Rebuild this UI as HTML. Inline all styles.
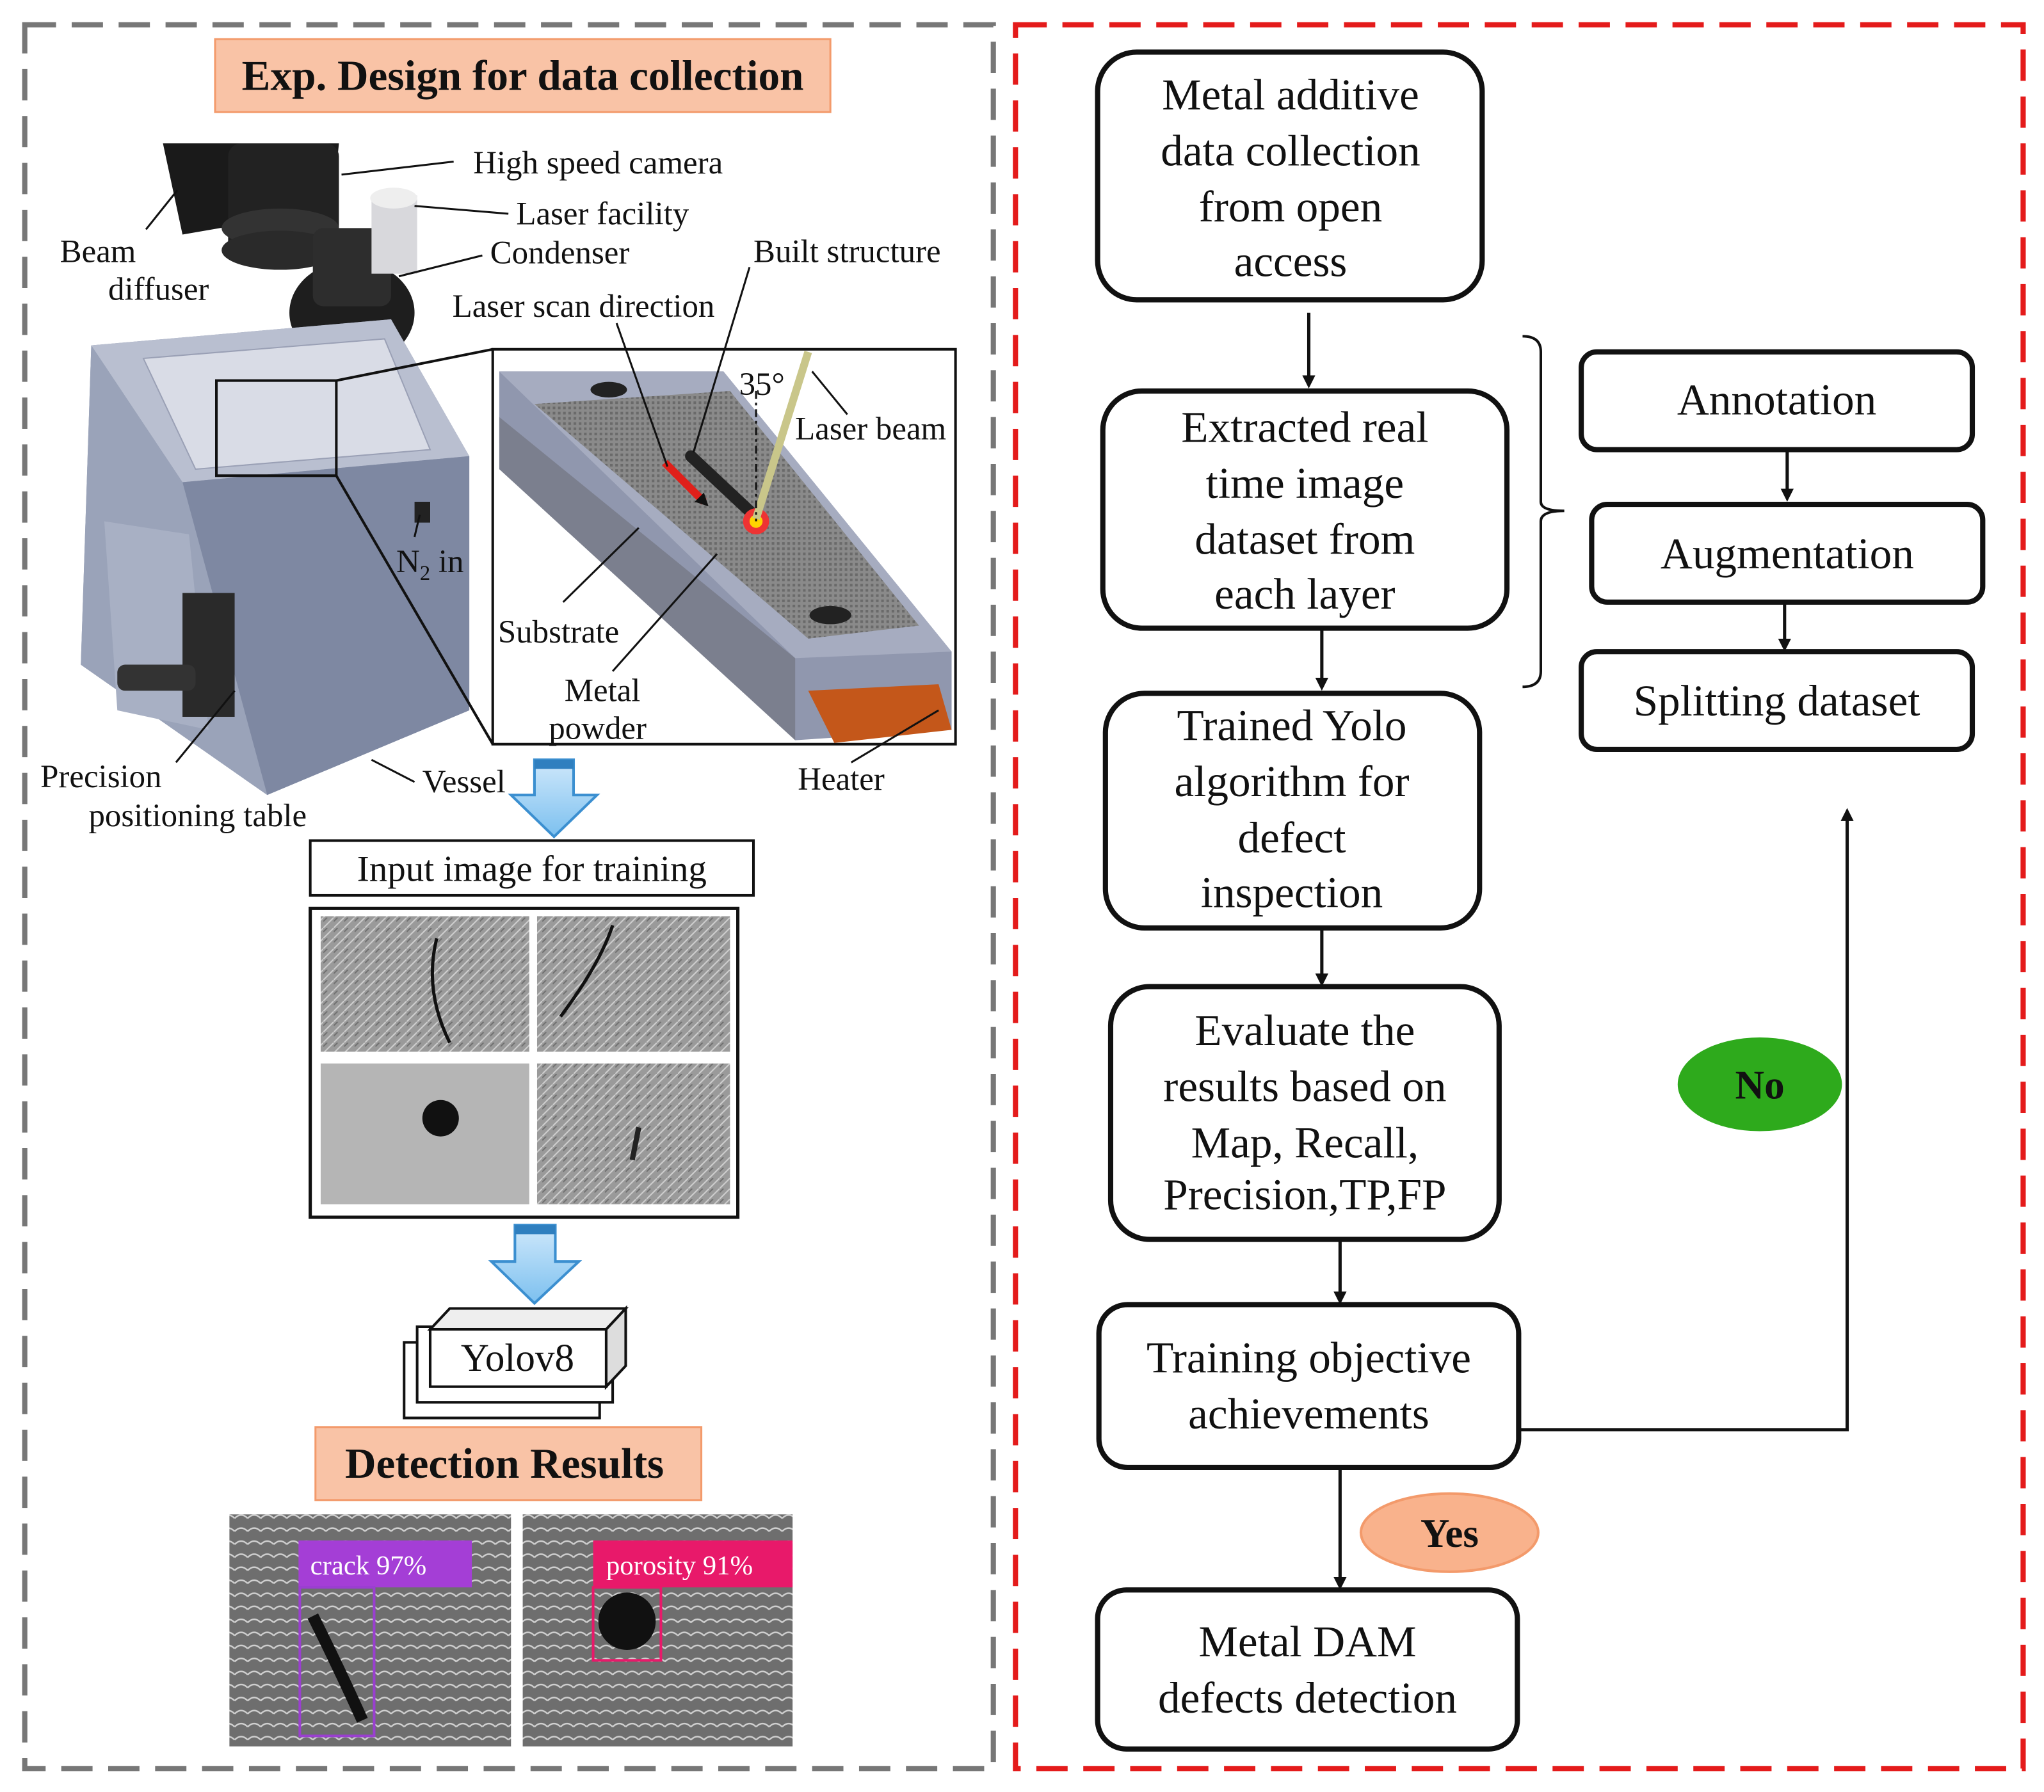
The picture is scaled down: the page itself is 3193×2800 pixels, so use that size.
<!DOCTYPE html>
<html><head><meta charset="utf-8"><style>
html,body{margin:0;padding:0;background:#fff}
svg{display:block}
text{font-family:"Liberation Serif",serif;fill:#111}
</style></head><body>
<svg width="3193" height="2800" viewBox="0 0 1568 1375" xmlns="http://www.w3.org/2000/svg">
<defs>
<marker id="ah" markerWidth="10" markerHeight="10" refX="5" refY="5" orient="auto" markerUnits="userSpaceOnUse"><path d="M0,0 L10,5 L0,10 z" fill="#111"/></marker>
<linearGradient id="bl" x1="0" y1="0" x2="0" y2="1"><stop offset="0" stop-color="#cfe8fb"/><stop offset="1" stop-color="#7cc0ef"/></linearGradient>
<pattern id="tex" width="8" height="8" patternUnits="userSpaceOnUse"><rect width="8" height="8" fill="#9a9a9a"/><path d="M0,8 L8,0" stroke="#cfcfcf" stroke-width="1"/><path d="M0,3 L3,0" stroke="#707070" stroke-width="1"/></pattern>
<pattern id="tex2" width="10" height="10" patternUnits="userSpaceOnUse"><rect width="10" height="10" fill="#6e6e6e"/><path d="M0,5 Q5,0 10,5" stroke="#d0d0d0" stroke-width="1.2" fill="none"/></pattern>
<pattern id="grid" width="4" height="4" patternUnits="userSpaceOnUse"><rect width="4" height="4" fill="#8a8a8a"/><rect width="2" height="2" fill="#6a6a6a"/></pattern>
</defs>

<rect x="19" y="19" width="743" height="1338" fill="none" stroke="#777" stroke-width="4" stroke-dasharray="24,12"/>
<rect x="779" y="19" width="773" height="1338" fill="none" stroke="#e41b1b" stroke-width="4" stroke-dasharray="24,12"/>

<rect x="165" y="30" width="472" height="56" fill="#f9c3a6" stroke="#f39a6b" stroke-width="1.5"/>
<text x="401" y="69" font-size="33" font-weight="bold" text-anchor="middle">Exp. Design for data collection</text>

<path d="M125,110 L260,110 L255,160 L140,180 Z" fill="#1a1a1a"/>
<rect x="175" y="110" width="85" height="90" rx="10" fill="#222"/>
<ellipse cx="215" cy="175" rx="45" ry="15" fill="#333"/>
<ellipse cx="215" cy="192" rx="45" ry="15" fill="#2a2a2a"/>
<ellipse cx="270" cy="240" rx="48" ry="40" fill="#1e1e1e"/>
<rect x="240" y="175" width="60" height="60" rx="8" fill="#2d2d2d"/>
<rect x="285" y="150" width="35" height="60" fill="#d8d8dc"/>
<ellipse cx="302" cy="152" rx="18" ry="8" fill="#eee"/>
<path d="M240,260 L215,320" stroke="#b8b86a" stroke-width="6"/>
<path d="M70,265 L300,245 L360,350 L360,545 L205,610 L62,510 Z" fill="#8a93ab"/>
<path d="M70,265 L300,245 L360,350 L140,370 Z" fill="#b9bfd0"/>
<path d="M110,275 L295,260 L330,345 L150,360 Z" fill="#d9dce6" stroke="#9aa0b5"/>
<path d="M140,370 L360,350 L360,545 L205,610 Z" fill="#7e88a2"/>
<path d="M62,510 L70,265 L140,370 L205,610 Z" fill="#9aa3b9"/>
<path d="M80,400 L145,410 L160,560 L90,545 Z" fill="#a8b0c4"/>
<rect x="140" y="455" width="40" height="95" fill="#2a2a2a"/>
<rect x="90" y="510" width="60" height="20" rx="6" fill="#333"/>
<rect x="318" y="385" width="12" height="16" fill="#222"/>
<rect x="166" y="292" width="92" height="73" fill="none" stroke="#111" stroke-width="2"/>
<line x1="258" y1="292" x2="378" y2="268" stroke="#111" stroke-width="2"/>
<line x1="258" y1="365" x2="378" y2="571" stroke="#111" stroke-width="2"/>

<rect x="378" y="268" width="355" height="303" fill="#fff" stroke="#111" stroke-width="2"/>
<path d="M383,285 L555,285 L730,500 L730,560 L610,568 L383,340 Z" fill="#9097ae"/>
<path d="M383,285 L555,285 L730,500 L610,505 Z" fill="#a6acc0"/>
<path d="M410,310 L560,300 L705,480 L620,490 Z" fill="url(#grid)"/>
<path d="M383,320 L610,505 L610,568 L383,360 Z" fill="#7b7f8e"/>
<ellipse cx="467" cy="299" rx="14" ry="6" fill="#222"/>
<ellipse cx="637" cy="472" rx="16" ry="7" fill="#222"/>
<path d="M620,530 L720,525 L730,560 L640,570 Z" fill="#c4571a"/>
<path d="M530,350 L578,395" stroke="#222" stroke-width="9" stroke-linecap="round"/>
<path d="M510,355 L540,385" stroke="#e0201a" stroke-width="6" marker-end="url(#ah)"/>
<circle cx="580" cy="400" r="10" fill="#e33"/><circle cx="580" cy="400" r="5" fill="#ffd400"/>
<path d="M580,398 L620,270" stroke="#c9c68a" stroke-width="6"/>
<line x1="580" y1="300" x2="580" y2="400" stroke="#111" stroke-dasharray="6,3,2,3" stroke-width="1.5"/>

<g font-size="25">
<text x="363" y="133">High speed camera</text>
<line x1="262" y1="134" x2="348" y2="124" stroke="#111" stroke-width="1.5"/>
<text x="396" y="172">Laser facility</text>
<line x1="318" y1="158" x2="390" y2="164" stroke="#111" stroke-width="1.5"/>
<text x="376" y="202">Condenser</text>
<line x1="306" y1="212" x2="370" y2="196" stroke="#111" stroke-width="1.5"/>
<text x="46" y="201">Beam</text>
<text x="83" y="230">diffuser</text>
<line x1="112" y1="176" x2="136" y2="146" stroke="#111" stroke-width="1.5"/>
<text x="578" y="201">Built structure</text>
<line x1="575" y1="205" x2="532" y2="347" stroke="#111" stroke-width="1.5"/>
<text x="347" y="243">Laser scan direction</text>
<line x1="473" y1="248" x2="512" y2="358" stroke="#111" stroke-width="1.5"/>
<text x="567" y="303">35°</text>
<text x="610" y="337">Laser beam</text>
<line x1="623" y1="285" x2="650" y2="318" stroke="#111" stroke-width="1.5"/>
<text x="304" y="439">N<tspan font-size="16" dy="6">2</tspan><tspan dy="-6"> in</tspan></text>
<line x1="322" y1="395" x2="318" y2="412" stroke="#111" stroke-width="1.5"/>
<text x="382" y="493">Substrate</text>
<line x1="432" y1="462" x2="490" y2="405" stroke="#111" stroke-width="1.5"/>
<text x="433" y="538">Metal</text>
<text x="421" y="567">powder</text>
<line x1="470" y1="515" x2="550" y2="425" stroke="#111" stroke-width="1.5"/>
<text x="612" y="606">Heater</text>
<line x1="653" y1="585" x2="720" y2="545" stroke="#111" stroke-width="1.5"/>
<text x="31" y="604">Precision</text>
<text x="68" y="634">positioning table</text>
<line x1="135" y1="585" x2="180" y2="530" stroke="#111" stroke-width="1.5"/>
<text x="324" y="608">Vessel</text>
<line x1="318" y1="600" x2="285" y2="583" stroke="#111" stroke-width="1.5"/>
</g>

<path d="M410,583 L440,583 L440,610 L458,610 L425,642 L392,610 L410,610 Z" fill="url(#bl)" stroke="#3b8fd0" stroke-width="2"/>
<rect x="410" y="583" width="30" height="7" fill="#2f7fbf"/>
<path d="M395,940 L426,940 L426,968 L444,968 L410,1000 L377,968 L395,968 Z" fill="url(#bl)" stroke="#3b8fd0" stroke-width="2"/>
<rect x="395" y="940" width="31" height="7" fill="#2f7fbf"/>

<rect x="238" y="645" width="340" height="42" fill="#fff" stroke="#111" stroke-width="2"/>
<text x="408" y="676" font-size="28" text-anchor="middle">Input image for training</text>

<rect x="238" y="697" width="328" height="237" fill="#fff" stroke="#111" stroke-width="2.5"/>
<rect x="246" y="703" width="160" height="104" fill="url(#tex)"/>
<rect x="412" y="703" width="148" height="104" fill="url(#tex)"/>
<rect x="246" y="816" width="160" height="108" fill="#b5b5b5"/>
<rect x="412" y="816" width="148" height="108" fill="url(#tex)"/>
<path d="M335,720 Q325,760 345,800" stroke="#111" stroke-width="2.5" fill="none"/>
<path d="M470,710 Q460,740 430,780" stroke="#111" stroke-width="2.5" fill="none"/>
<circle cx="338" cy="858" r="14" fill="#111"/>
<path d="M490,865 L485,890" stroke="#222" stroke-width="4"/>

<path d="M310,1030 L460,1030 L460,1088 L310,1088 Z" fill="#fff" stroke="#111" stroke-width="2"/>
<path d="M320,1018 L470,1018 L470,1076 L320,1076 Z" fill="#fff" stroke="#111" stroke-width="2"/>
<path d="M330,1020 L345,1004 L480,1004 L465,1020 Z" fill="#eee" stroke="#111" stroke-width="2"/>
<path d="M465,1020 L480,1004 L480,1048 L465,1064 Z" fill="#ddd" stroke="#111" stroke-width="2"/>
<rect x="330" y="1020" width="135" height="44" fill="#fff" stroke="#111" stroke-width="2"/>
<text x="397" y="1052" font-size="30" text-anchor="middle">Yolov8</text>

<rect x="242" y="1095" width="296" height="56" fill="#f9c3a6" stroke="#f39a6b" stroke-width="1.5"/>
<text x="387" y="1134" font-size="33" font-weight="bold" text-anchor="middle">Detection Results</text>

<rect x="176" y="1162" width="216" height="178" fill="url(#tex2)"/>
<rect x="229" y="1182" width="133" height="36" fill="#a43ed6"/>
<text x="238" y="1208" font-size="21" style="fill:#fff">crack  97%</text>
<rect x="230" y="1218" width="57" height="114" fill="none" stroke="#9a3fd0" stroke-width="2"/>
<path d="M240,1240 Q260,1280 278,1320" stroke="#111" stroke-width="9" fill="none"/>
<rect x="401" y="1162" width="207" height="178" fill="url(#tex2)"/>
<rect x="455" y="1182" width="153" height="36" fill="#e8196a"/>
<text x="465" y="1208" font-size="21" style="fill:#fff">porosity  91%</text>
<rect x="455" y="1218" width="52" height="56" fill="none" stroke="#e8196a" stroke-width="2"/>
<circle cx="481" cy="1244" r="22" fill="#111"/>

<g fill="#fff" stroke="#111" stroke-width="4">
<rect x="842" y="40" width="295" height="190" rx="30"/>
<rect x="846" y="300" width="310" height="182" rx="30"/>
<rect x="848" y="532" width="287" height="180" rx="30"/>
<rect x="852" y="757" width="298" height="194" rx="30"/>
<rect x="843" y="1001" width="322" height="125" rx="22"/>
<rect x="842" y="1220" width="322" height="122" rx="22"/>
<rect x="1213" y="270" width="300" height="75" rx="12"/>
<rect x="1221" y="387" width="300" height="75" rx="12"/>
<rect x="1213" y="500" width="300" height="75" rx="12"/>
</g>
<g font-size="34" text-anchor="middle">
<text x="990" y="84">Metal additive</text><text x="990" y="127">data collection</text><text x="990" y="170">from open</text><text x="990" y="212">access</text>
<text x="1001" y="339">Extracted real</text><text x="1001" y="382">time image</text><text x="1001" y="425">dataset from</text><text x="1001" y="467">each layer</text>
<text x="991" y="568">Trained Yolo</text><text x="991" y="611">algorithm for</text><text x="991" y="654">defect</text><text x="991" y="696">inspection</text>
<text x="1001" y="802">Evaluate the</text><text x="1001" y="845">results based on</text><text x="1001" y="888">Map, Recall,</text><text x="1001" y="928">Precision,TP,FP</text>
<text x="1004" y="1053">Training objective</text><text x="1004" y="1096">achievements</text>
<text x="1003" y="1271">Metal DAM</text><text x="1003" y="1314">defects detection</text>
<text x="1363" y="318">Annotation</text>
<text x="1371" y="436">Augmentation</text>
<text x="1363" y="549">Splitting dataset</text>
</g>
<g stroke="#111" stroke-width="2.5" fill="none" marker-end="url(#ah)">
<line x1="1004" y1="240" x2="1004" y2="293"/>
<line x1="1014" y1="482" x2="1014" y2="525"/>
<line x1="1014" y1="712" x2="1014" y2="752"/>
<line x1="1028" y1="951" x2="1028" y2="996"/>
<line x1="1028" y1="1126" x2="1028" y2="1215"/>
<line x1="1371" y1="345" x2="1371" y2="380"/>
<line x1="1369" y1="462" x2="1369" y2="495"/>
<polyline points="1166,1097 1417,1097 1417,625"/>
</g>
<path d="M1168,258 Q1182,258 1182,270 L1182,385 Q1182,392 1200,392 Q1182,392 1182,400 L1182,515 Q1182,527 1168,527" fill="none" stroke="#111" stroke-width="2"/>
<ellipse cx="1112" cy="1176" rx="68" ry="30" fill="#f9b28c" stroke="#f39a6b" stroke-width="2"/>
<text x="1112" y="1187" font-size="31" font-weight="bold" text-anchor="middle">Yes</text>
<ellipse cx="1350" cy="832" rx="63" ry="36" fill="#2eaa1c"/>
<text x="1350" y="843" font-size="31" font-weight="bold" text-anchor="middle">No</text>
</svg>
</body></html>
